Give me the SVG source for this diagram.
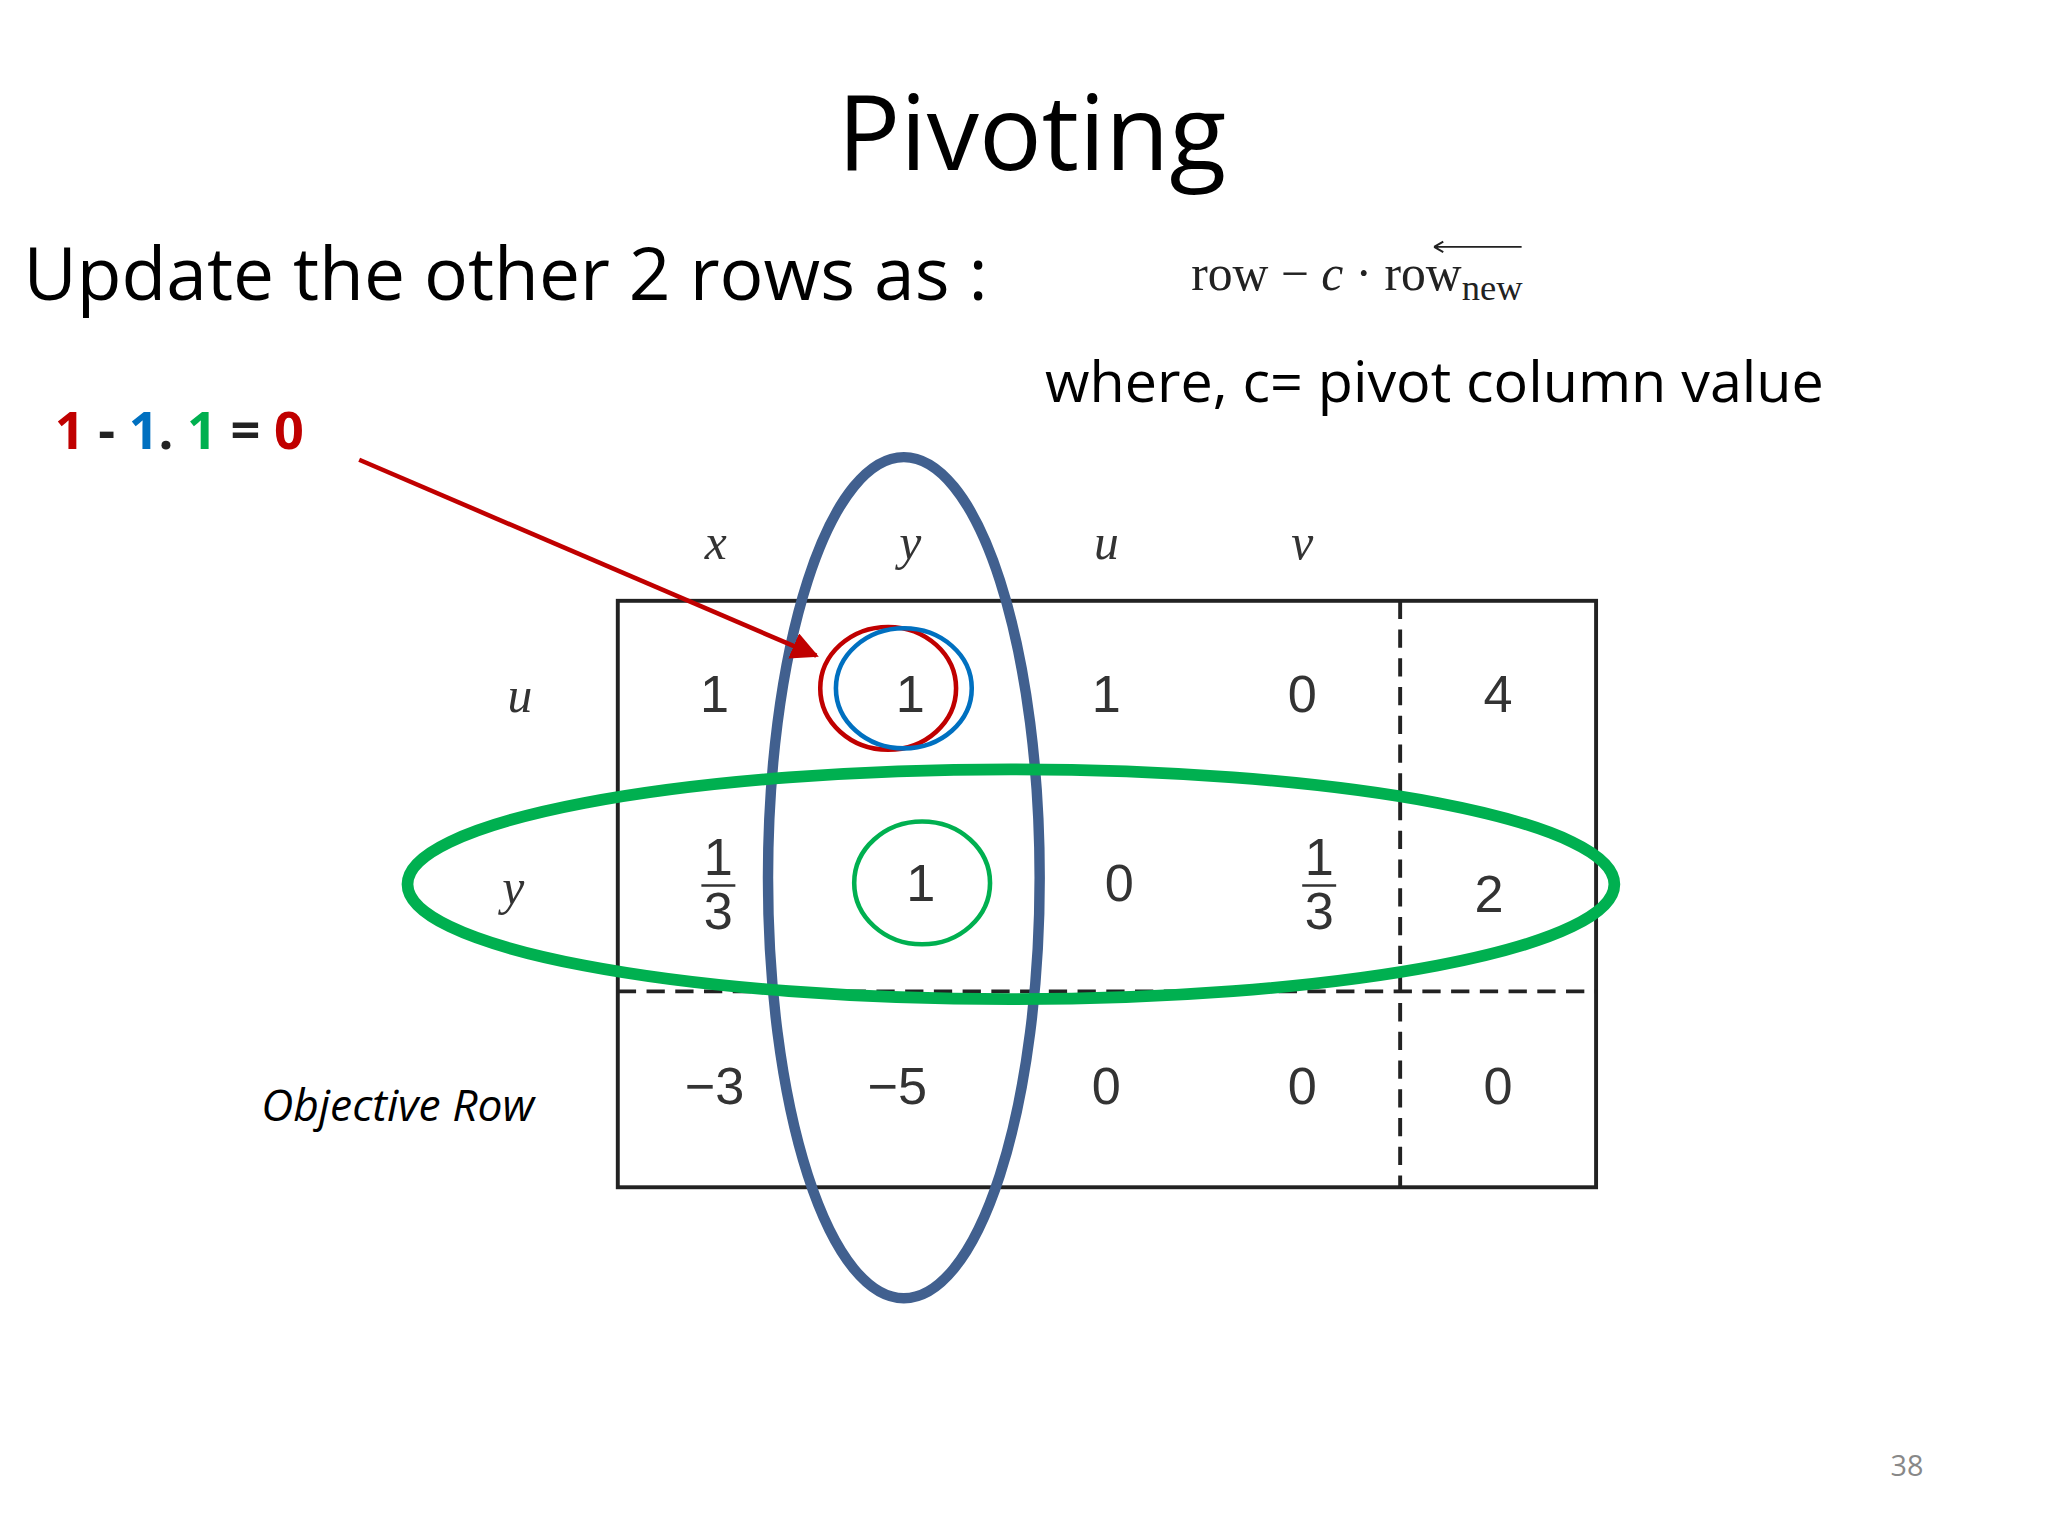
<svg xmlns="http://www.w3.org/2000/svg" width="2048" height="1536" viewBox="0 0 2048 1536">
<style>
.s{font-family:"Open Sans","Noto Sans","Liberation Sans",sans-serif}
.v{font-family:"Liberation Sans",Arial,sans-serif;font-size:40px;fill:#333;text-anchor:middle}
.h{font-family:"Liberation Serif","Times New Roman",serif;font-style:italic;font-size:38px;fill:#333;text-anchor:middle}
.b{font-family:"Open Sans","Liberation Sans",sans-serif;font-weight:bold;font-size:40px}
</style>
<defs><marker id="ar" viewBox="0 0 10 10" refX="9" refY="5" markerWidth="6" markerHeight="6" orient="auto"><path d="M0,0L10,5L0,10z" fill="#C00000"/></marker></defs>
<rect width="2048" height="1536" fill="#fff"/>
<g transform="scale(1.30612)">
<text class="s" x="790" y="130" font-size="80" text-anchor="middle">Pivoting</text>
<text class="s" x="18" y="230" font-size="56">Update the other 2 rows as :</text>
<g id="formula" font-family="Liberation Serif,serif" font-size="38" fill="#222">
<text x="912" y="222">row − <tspan font-style="italic">c</tspan> · row<tspan font-size="28" dy="8">new</tspan></text>
<path d="M1098,189 L1165,189 M1098,189 l7,-4 M1098,189 l7,4" stroke="#222" stroke-width="1.5" fill="none"/>
</g>
<text class="s" x="800" y="308" font-size="44">where, c= pivot column value</text>
<text class="b" x="42" y="344"><tspan fill="#C00000">1</tspan><tspan fill="#222"> - </tspan><tspan fill="#0070C0">1</tspan><tspan fill="#222">. </tspan><tspan fill="#00B050">1</tspan><tspan fill="#222"> = </tspan><tspan fill="#C00000">0</tspan></text>
<g id="table">
<rect x="473" y="460" width="749" height="449" fill="none" stroke="#222" stroke-width="3"/>
<line x1="1072" y1="460" x2="1072" y2="909" stroke="#222" stroke-width="3" stroke-dasharray="14,8"/>
<line x1="473" y1="759" x2="1222" y2="759" stroke="#222" stroke-width="3" stroke-dasharray="14,8"/>
<text class="h" x="548" y="428">x</text><text class="h" x="697" y="428">y</text><text class="h" x="847" y="428">u</text><text class="h" x="997" y="428">v</text>
<text class="h" x="398" y="545">u</text><text class="h" x="393" y="692">y</text>
<text class="s" x="200" y="858" font-size="34" font-style="italic">Objective Row</text>
<text class="v" x="547" y="545">1</text><text class="v" x="697" y="545">1</text><text class="v" x="847" y="545">1</text><text class="v" x="997" y="545">0</text><text class="v" x="1147" y="545">4</text>
<text class="v" x="550" y="670" font-size="32">1</text><line x1="537" y1="678" x2="563" y2="678" stroke="#333" stroke-width="2"/><text class="v" x="550" y="711" font-size="32">3</text>
<text class="v" x="705" y="690">1</text><text class="v" x="857" y="690">0</text>
<text class="v" x="1010" y="670" font-size="32">1</text><line x1="997" y1="678" x2="1023" y2="678" stroke="#333" stroke-width="2"/><text class="v" x="1010" y="711" font-size="32">3</text>
<text class="v" x="1140" y="698">2</text>
<text class="v" x="547" y="845">−3</text><text class="v" x="687" y="845">−5</text><text class="v" x="847" y="845">0</text><text class="v" x="997" y="845">0</text><text class="v" x="1147" y="845">0</text>
</g>
<g id="marks" fill="none">
<ellipse cx="692" cy="672" rx="104" ry="322" stroke="#41608F" stroke-width="8"/>
<ellipse cx="774" cy="677" rx="462" ry="88" stroke="#00B050" stroke-width="9"/>
<ellipse cx="680" cy="527" rx="52" ry="47" stroke="#C00000" stroke-width="3.5"/>
<ellipse cx="692" cy="527" rx="52" ry="46" stroke="#0070C0" stroke-width="3.5"/>
<ellipse cx="706" cy="676" rx="52" ry="47" stroke="#00B050" stroke-width="3.5"/>
</g>
<g id="connectors"><line x1="275" y1="352" x2="625" y2="502" stroke="#C00000" stroke-width="3.5" marker-end="url(#ar)"/></g>
<text class="s" x="1460" y="1130" font-size="22" fill="#888" text-anchor="middle">38</text>
</g>
</svg>
